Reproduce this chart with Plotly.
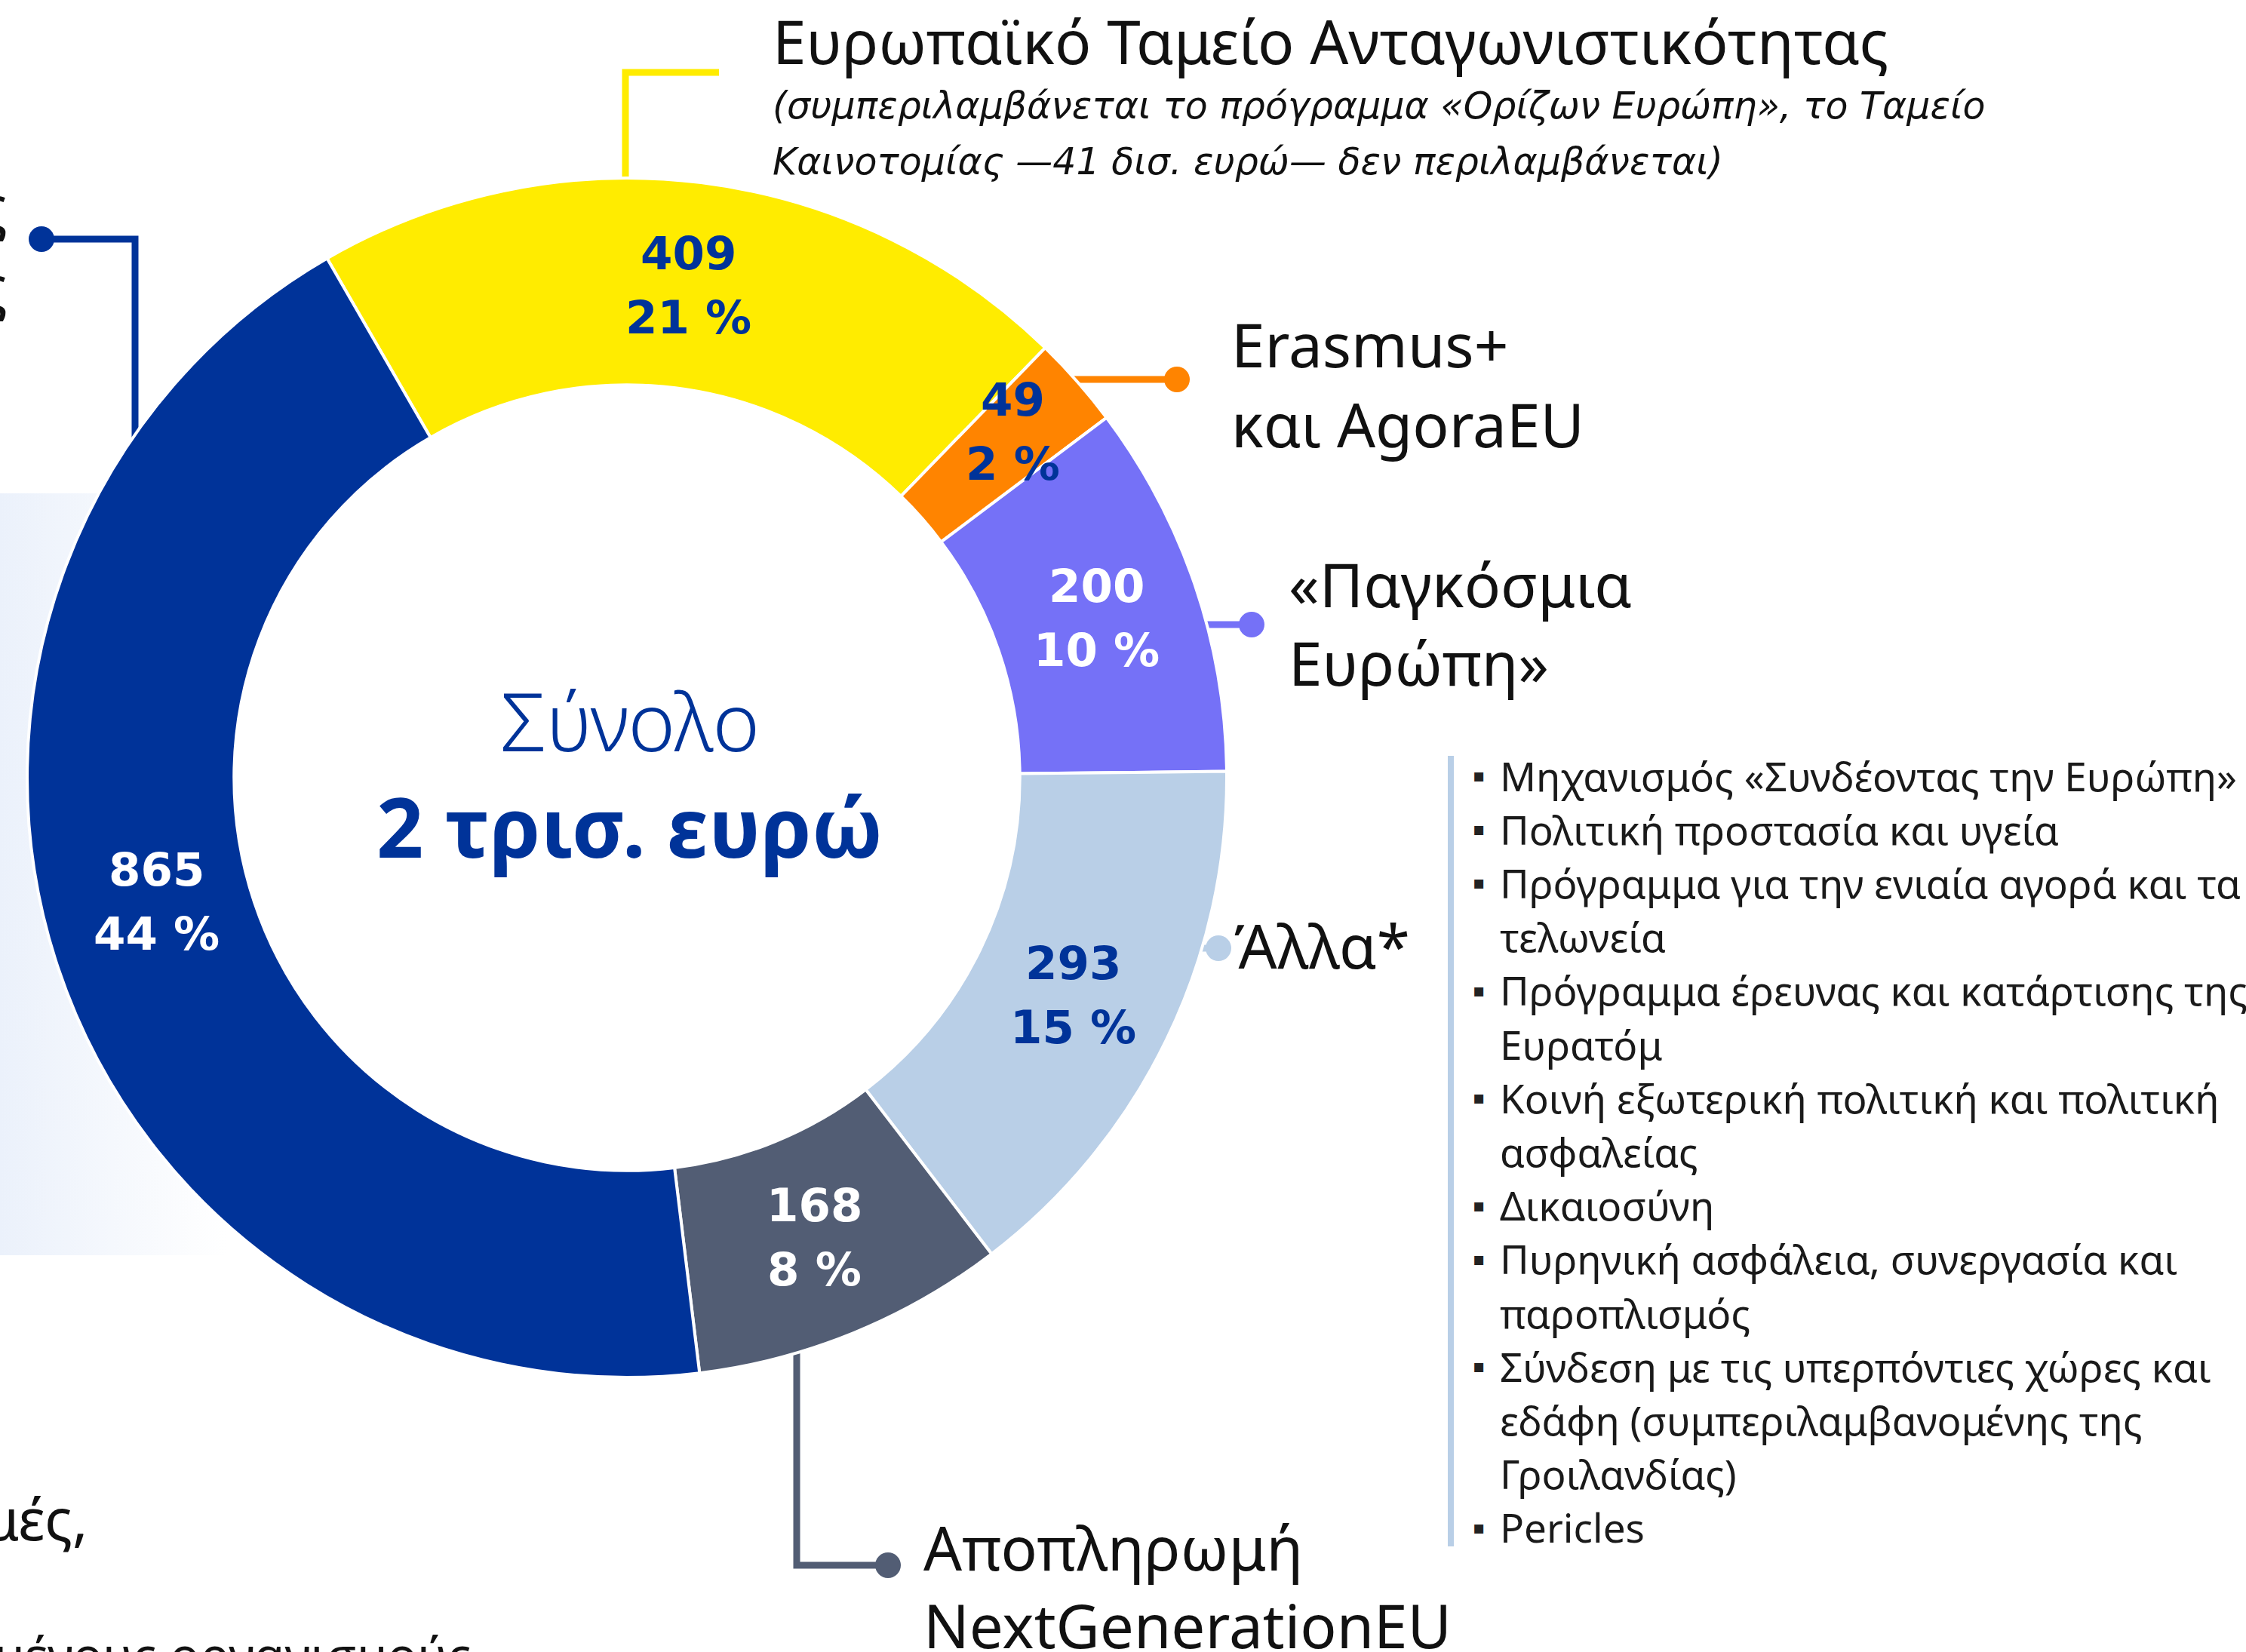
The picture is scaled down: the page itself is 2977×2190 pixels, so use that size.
import math
import plotly.graph_objects as go

# ---------------- data ----------------
segments = ["Ευρωπαϊκό Ταμείο Ανταγωνιστικότητας", "Erasmus+ και AgoraEU",
            "«Παγκόσμια Ευρώπη»", "Άλλα*", "Αποπληρωμή NextGenerationEU", "Λοιπά"]
values = [409, 49, 200, 293, 168, 865]
colors = ["#FFEC00", "#FF8400", "#7571F7", "#B9CFE7", "#525D74", "#003399"]
label_colors = ["#003399", "#003399", "#FFFFFF", "#003399", "#FFFFFF", "#FFFFFF"]

total_label = ["Σύνολο", "2 τρισ. ευρώ"]
title_lines = ["Ευρωπαϊκό Ταμείο Ανταγωνιστικότητας"]
subtitle_lines = ["(συμπεριλαμβάνεται το πρόγραμμα «Ορίζων Ευρώπη», το Ταμείο",
                  "Καινοτομίας —41 δισ. ευρώ— δεν περιλαμβάνεται)"]
outer_labels = [
    ["Erasmus+", "και AgoraEU"],
    ["«Παγκόσμια", "Ευρώπη»"],
    ["Άλλα*"],
    ["Αποπληρωμή", "NextGenerationEU"],
]
other_items = [
    ["Μηχανισμός «Συνδέοντας την Ευρώπη»"],
    ["Πολιτική προστασία και υγεία"],
    ["Πρόγραμμα για την ενιαία αγορά και τα", "τελωνεία"],
    ["Πρόγραμμα έρευνας και κατάρτισης της", "Ευρατόμ"],
    ["Κοινή εξωτερική πολιτική και πολιτική", "ασφαλείας"],
    ["Δικαιοσύνη"],
    ["Πυρηνική ασφάλεια, συνεργασία και", "παροπλισμός"],
    ["Σύνδεση με τις υπερπόντιες χώρες και", "εδάφη (συμπεριλαμβανομένης της", "Γροιλανδίας)"],
    ["Pericles"],
]

# ---------------- layout geometry ----------------
W, H = 2977, 2190
CX, CY, R = 831, 1031, 795
HOLE = 0.655
ROT = -30
BLUE = "#003399"
TXT = "#111111"
# small nudges of individual slice labels (pixels)
label_offsets = {1: (18, -24), 5: (0, -44)}

fig = go.Figure()

# light gradient panel on the left (partially hidden behind donut)
fig.add_trace(go.Scatter(
    x=[0, 300, 300, 0, 0], y=[654, 654, 1664, 1664, 654],
    mode="lines", line=dict(width=0), fill="toself",
    fillgradient=dict(type="horizontal",
                      colorscale=[[0, "#EBF1FB"], [1, "#FFFFFF"]]),
    hoverinfo="skip", showlegend=False))

# connectors (drawn under the donut)
connectors = [
    dict(x=[829, 829, 953], y=[260, 96, 96], c=colors[0], dot=False),
    dict(x=[1400, 1560], y=[503, 503], c=colors[1], dot=True),
    dict(x=[1590, 1659], y=[828, 828], c=colors[2], dot=True),
    dict(x=[1585, 1615], y=[1257, 1257], c=colors[3], dot=True),
    dict(x=[1056, 1056, 1177], y=[1780, 2075, 2075], c=colors[4], dot=True),
    dict(x=[179, 179, 55], y=[610, 317, 317], c=colors[5], dot=True),
]
for cn in connectors:
    fig.add_trace(go.Scatter(x=cn["x"], y=cn["y"], mode="lines",
                             line=dict(color=cn["c"], width=9),
                             hoverinfo="skip", showlegend=False))
    if cn["dot"]:
        fig.add_trace(go.Scatter(x=[cn["x"][-1]], y=[cn["y"][-1]], mode="markers",
                                 marker=dict(color=cn["c"], size=34),
                                 hoverinfo="skip", showlegend=False))

# donut
fig.add_trace(go.Pie(
    labels=segments, values=values, sort=False, direction="clockwise",
    rotation=ROT, hole=HOLE,
    marker=dict(colors=colors, line=dict(color="#FFFFFF", width=4)),
    textinfo="none", hoverinfo="skip", showlegend=False,
    domain=dict(x=[(CX - R) / W, (CX + R) / W],
                y=[(H - CY - R) / H, (H - CY + R) / H])))

ann = []

# slice labels computed from values
tot = sum(values)
acc = 0
RM = R * (1 + HOLE) / 2
for i, (v, lc) in enumerate(zip(values, label_colors)):
    mid = ROT + (acc + v / 2) / tot * 360
    acc += v
    a = math.radians(mid)
    ox, oy = label_offsets.get(i, (0, 0))
    lx = CX + RM * math.sin(a) + ox
    ly = CY - RM * math.cos(a) + oy
    pct = round(v / tot * 100)
    for txt, dy in ((str(v), -43), (f"{pct} %", 42)):
        ann.append(dict(x=lx, y=ly + dy, text=txt, showarrow=False,
                        xanchor="center", yanchor="middle",
                        font=dict(family="DejaVu Sans", size=61, color=lc, weight="bold")))

# center text
ann.append(dict(x=835, y=955, text=total_label[0], showarrow=False,
                font=dict(family="Noto Sans", size=106, color=BLUE, weight=300)))
ann.append(dict(x=835, y=1094, text=total_label[1], showarrow=False,
                font=dict(family="Noto Sans", size=109, color=BLUE, weight="bold")))

# title and subtitle
ann.append(dict(x=1022, y=53, text=title_lines[0], showarrow=False, xanchor="left",
                font=dict(family="Noto Sans", size=80, color=TXT)))
for i, s in enumerate(subtitle_lines):
    ann.append(dict(x=1022, y=140 + i * 74, text=s, showarrow=False, xanchor="left",
                    font=dict(family="DejaVu Sans", size=49, color=TXT, style="italic")))

# outer labels
outer_pos = [(1630, 455, 106), (1706, 773, 104), (1634, 1252, 0), (1222, 2050, 103)]
for lines, (ox, oy, sp) in zip(outer_labels, outer_pos):
    for j, s in enumerate(lines):
        ann.append(dict(x=ox, y=oy + j * sp, text=s, showarrow=False, xanchor="left",
                        font=dict(family="Noto Sans", size=80, color=TXT)))

# list of "other" programmes
line_y = 1028
for item in other_items:
    ann.append(dict(x=1960, y=line_y, text="▪", showarrow=False, xanchor="center",
                    font=dict(family="DejaVu Sans", size=24, color="#222222")))
    for s in item:
        ann.append(dict(x=1986, y=line_y, text=s, showarrow=False, xanchor="left",
                        font=dict(family="Noto Sans", size=53, color="#1a1a1a")))
        line_y += 71.2

# cropped fragments of neighbouring text at the image edges
for yy in (272, 378):
    ann.append(dict(x=12, y=yy, text="ς", showarrow=False, xanchor="right",
                    font=dict(family="Noto Sans", size=80, color=TXT)))
ann.append(dict(x=118, y=2012, text="μές,", showarrow=False, xanchor="right",
                font=dict(family="Noto Sans", size=76, color=TXT)))
ann.append(dict(xref="paper", yref="paper", x=-10 / W, y=-2 / H,
                text="μένους οργανισμούς", showarrow=False,
                xanchor="left", yanchor="middle",
                font=dict(family="Noto Sans", size=66, color=TXT)))

shapes = [dict(type="rect", xref="x", yref="y", x0=1919, x1=1927, y0=1002, y1=2050,
               fillcolor="#B9CFE7", line=dict(width=0), layer="below")]

fig.update_layout(
    width=W, height=H, margin=dict(l=0, r=0, t=0, b=0),
    paper_bgcolor="#FFFFFF", plot_bgcolor="rgba(0,0,0,0)",
    xaxis=dict(range=[0, W], visible=False, fixedrange=True, domain=[0, 1]),
    yaxis=dict(range=[H, 0], visible=False, fixedrange=True, domain=[0, 1]),
    annotations=ann, shapes=shapes, showlegend=False,
)

fig.write_html("out.html", config={"displayModeBar": False},
               post_script="document.body.style.margin='0px';")
